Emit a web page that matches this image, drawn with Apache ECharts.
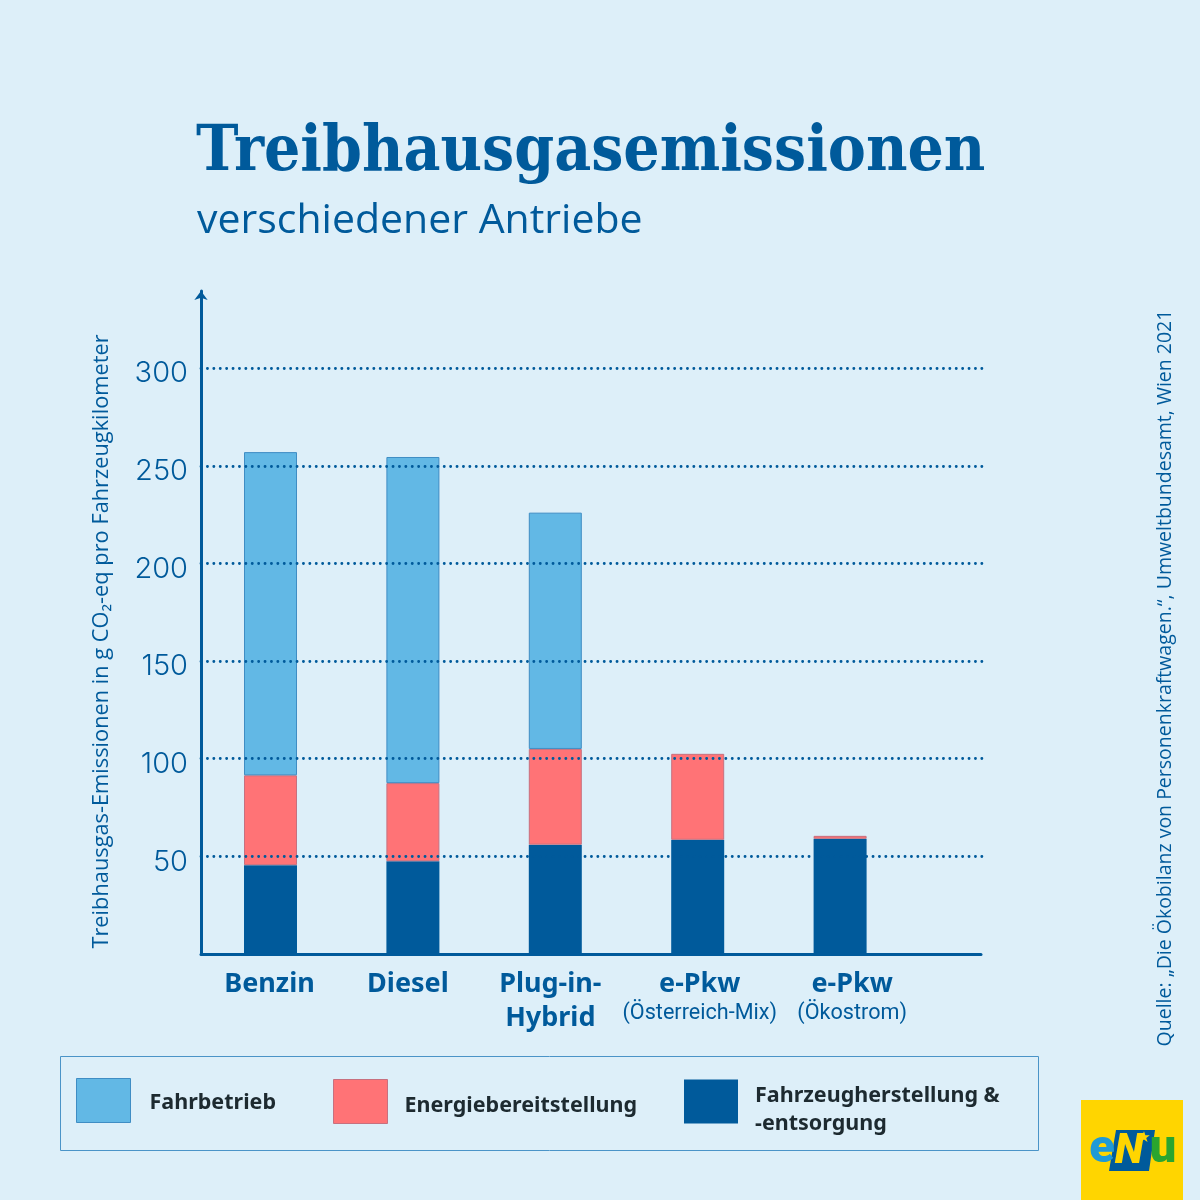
<!DOCTYPE html>
<html>
<head>
<meta charset="utf-8">
<style>html,body{margin:0;padding:0;background:#ddeff9}#chart{width:1200px;height:1200px}</style>
<script src="https://cdn.jsdelivr.net/npm/echarts@6/dist/echarts.min.js"></script>
</head>
<body>
<div id="chart"></div>
<script>
var categories = ['Benzin', 'Diesel', 'Plug-in-\nHybrid', 'e-Pkw\n(Österreich-Mix)', 'e-Pkw\n(Ökostrom)'];
var herstellung = [45.5, 47.5, 56, 58.5, 59];
var energie = [46, 40, 49, 44, 1.5];
var fahrbetrieb = [165.5, 167, 121, null, null];
var yTicks = [50, 100, 150, 200, 250, 300];

var BLUE = '#005a9b';
var BOLD = 'Noto Sans';
var labelShift = [-1, -5, -5, 2, 12]; // labels sit a bit off the bar centre

var labelRich = {};
categories.forEach(function (c, i) {
    var s = labelShift[i];
    var pad = s >= 0 ? [0, 0, 0, s * 2] : [0, -s * 2, 0, 0];
    labelRich['n' + i] = {fontFamily: BOLD, fontWeight: 700, fontSize: 27, color: BLUE, lineHeight: 34, padding: pad};
    labelRich['s' + i] = {fontFamily: 'Roboto', fontWeight: 400, fontSize: 21.6, color: BLUE, lineHeight: 26, padding: pad};
});

// spacer: height of a blank first line, pushes the text down next to the swatch
function legendAt(name, left, top, gap, spacer) {
    return {
        data: [name], left: left, top: top, padding: 0, orient: 'horizontal',
        itemWidth: 54, itemHeight: 44, itemGap: 0, icon: 'rect', selectedMode: false,
        itemStyle: {borderWidth: 1},
        formatter: function (n) {
            return '{sp| }\n' + n.split('& ').map(function (t, i, a) {
                return '{t|' + t + (i < a.length - 1 ? '&' : '') + '}';
            }).join('\n');
        },
        textStyle: {
            padding: [0, 0, 0, gap],
            rich: {
                sp: {fontSize: 1, lineHeight: spacer},
                t: {fontFamily: BOLD, fontWeight: 700, fontSize: 21.5, color: '#1d2a30', lineHeight: 28}
            }
        }
    };
}

var option = {
    animation: false,
    backgroundColor: '#ddeff9',
    title: [
        {text: 'Treibhausgasemissionen', left: 196, top: 121, padding: 0,
            textStyle: {fontFamily: 'DejaVu Serif Condensed', fontWeight: 700, fontSize: 63.5, color: BLUE}},
        {text: 'verschiedener Antriebe', left: 197, top: 201, padding: 0,
            textStyle: {fontFamily: 'Open Sans', fontWeight: 400, fontSize: 41, color: BLUE}}
    ],
    grid: [
        {left: 201, width: 784, top: 291, height: 663},
        {left: 199.3, width: 712, top: 291, height: 663},
        {left: 201, width: 780, top: 291, height: 663}
    ],
    xAxis: [
        {gridIndex: 0, type: 'value', show: false},
        {gridIndex: 1, type: 'category', data: categories, axisLine: {show: false}, axisTick: {show: false},
            axisLabel: {
                interval: 0, margin: 13,
                formatter: function (v, i) {
                    var p = v.split('\n');
                    var second = p[1] ? (p[1].charAt(0) === '(' ? '{s' + i + '|' + p[1] + '}' : '{n' + i + '|' + p[1] + '}') : '';
                    return '{n' + i + '|' + p[0] + '}' + (second ? '\n' + second : '');
                },
                rich: labelRich
            }},
        {gridIndex: 2, type: 'value', axisLine: {show: true, onZero: false, lineStyle: {color: BLUE, width: 3}},
            axisTick: {show: false}, axisLabel: {show: false}, splitLine: {show: false}}
    ],
    yAxis: [
        {gridIndex: 0, type: 'value', min: 0, max: 339.5, interval: 50, z: 5,
            axisLine: {show: true, symbol: ['none', 'arrow'], symbolSize: [10, 9], lineStyle: {color: BLUE, width: 3}},
            axisTick: {show: false},
            axisLabel: {
                margin: 13, fontFamily: 'Inter', fontWeight: 300, fontSize: 29, color: BLUE,
                verticalAlign: 'top', lineHeight: 11,
                formatter: function (v) { return yTicks.indexOf(v) >= 0 ? String(v) : ''; }
            },
            splitLine: {show: true, showMinLine: false, showMaxLine: false,
                lineStyle: {color: BLUE, width: 2.8, type: [0.1, 6.3], cap: 'round'}},
            name: 'Treibhausgas-Emissionen in g CO₂-eq pro Fahrzeugkilometer',
            nameLocation: 'middle', nameRotate: 90, nameGap: 88,
            nameTextStyle: {fontFamily: 'Open Sans', fontSize: 21.8, color: BLUE, padding: [0, 38, 0, 0]}},
        {gridIndex: 1, type: 'value', min: 0, max: 339.5, show: false},
        {gridIndex: 2, type: 'value', min: 0, max: 339.5, show: false}
    ],
    legend: [
        legendAt('Fahrbetrieb', 76, 1078, 14, 4),
        legendAt('Energiebereitstellung', 333, 1079, 12, 8),
        legendAt('Fahrzeugherstellung & -entsorgung', 684, 1073, 12, 16)
    ],
    series: [
        {name: 'Fahrzeugherstellung & -entsorgung', type: 'bar', stack: 'a', xAxisIndex: 1, yAxisIndex: 1, barWidth: 53,
            data: herstellung, itemStyle: {color: BLUE}},
        {name: 'Energiebereitstellung', type: 'bar', stack: 'a', xAxisIndex: 1, yAxisIndex: 1, barWidth: 53,
            data: energie, itemStyle: {color: '#ff7376', borderColor: '#c7707f', borderWidth: 1}},
        {name: 'Fahrbetrieb', type: 'bar', stack: 'a', xAxisIndex: 1, yAxisIndex: 1, barWidth: 53,
            data: fahrbetrieb, itemStyle: {color: '#62b8e5', borderColor: '#3f8dc4', borderWidth: 1}}
    ],
    graphic: [
        {type: 'rect', shape: {x: 60.5, y: 1056.5, width: 978, height: 94}, z: -1,
            style: {fill: 'none', stroke: '#4a94c8', lineWidth: 1}},
        {type: 'text', x: 1165, y: 678, rotation: Math.PI / 2,
            style: {text: 'Quelle: „Die Ökobilanz von Personenkraftwagen.“, Umweltbundesamt, Wien 2021',
                fontFamily: 'Open Sans', fontSize: 19.5, fill: BLUE, textAlign: 'center', textVerticalAlign: 'middle'}},
        // Logo
        {type: 'rect', shape: {x: 1081, y: 1100, width: 102, height: 100}, style: {fill: '#ffd500'}},
        {type: 'polygon', shape: {points: [[1116, 1130], [1155, 1130], [1149, 1171], [1109, 1171]]}, style: {fill: BLUE}},
        {type: 'text', x: 1102, y: 1150, style: {text: 'e', fontFamily: 'Roboto', fontWeight: 900, fontSize: 47, fill: '#1f9ad6', textAlign: 'center', textVerticalAlign: 'middle'}},
        {type: 'text', x: 1129, y: 1152, style: {text: 'N', fontFamily: 'Roboto', fontWeight: 900, fontStyle: 'italic', fontSize: 42, fill: '#ffd500', textAlign: 'center', textVerticalAlign: 'middle'}},
        {type: 'text', x: 1163, y: 1150, style: {text: 'u', fontFamily: 'Roboto', fontWeight: 900, fontSize: 47, fill: '#2aa52f', textAlign: 'center', textVerticalAlign: 'middle'}},
        {type: 'text', x: 1144, y: 1138, style: {text: '★', fontFamily: 'DejaVu Sans', fontSize: 15, fill: '#ffd500', textAlign: 'center', textVerticalAlign: 'middle'}}
    ]
};

var chart = echarts.init(document.getElementById('chart'), null, {renderer: 'canvas'});
chart.setOption(option);
</script>
</body>
</html>
